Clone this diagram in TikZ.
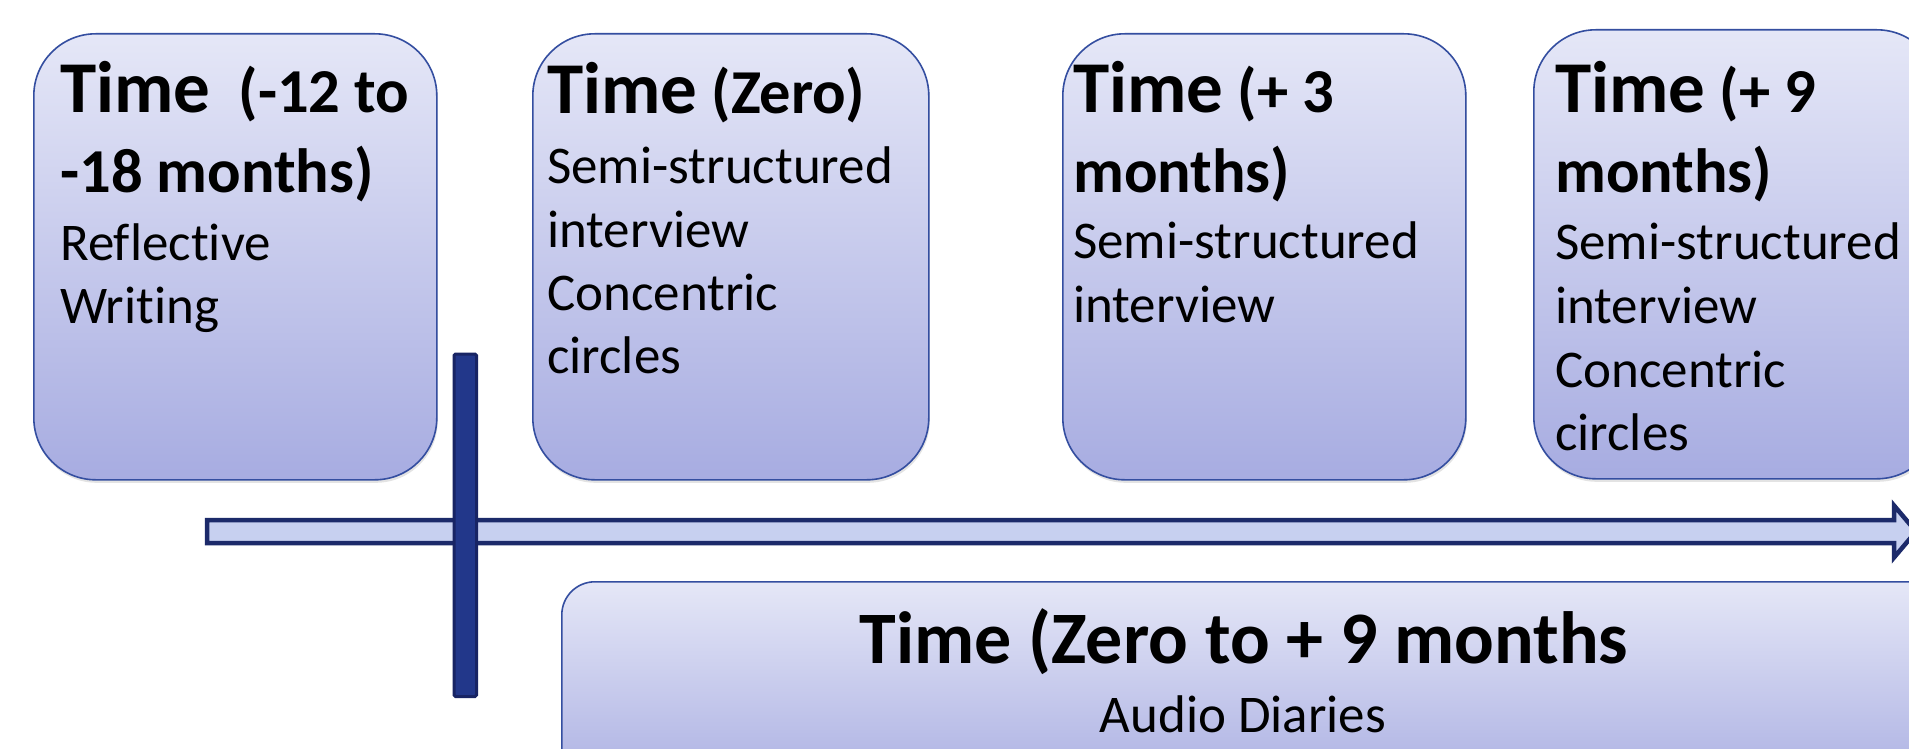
\documentclass[tikz,border=0pt]{standalone}
\usepackage{fontspec}
\setmainfont{Carlito}[Ligatures=NoCommon]
\usetikzlibrary{shadows,calc}
\definecolor{boxtop}{RGB}{229,231,247}
\definecolor{boxbot}{RGB}{167,172,225}
\definecolor{boxline}{RGB}{52,78,160}
\definecolor{arrfill}{RGB}{199,208,240}
\definecolor{arrline}{RGB}{28,42,106}
\definecolor{barfill}{RGB}{34,55,138}
\definecolor{barline}{RGB}{24,36,100}
\newcommand\TimeWord{{\fontsize{73}{80}\selectfont Time}}
\begin{document}
\begin{tikzpicture}[x=1pt,y=-1pt,
  tbox/.style={draw=boxline, line width=1.6pt, rounded corners=62pt,
    top color=boxtop, bottom color=boxbot, anchor=north west, inner sep=0pt,
    drop shadow={opacity=0.22, shadow xshift=1pt, shadow yshift=-3pt}},
  hline/.style={font=\fontsize{62.5}{70}\selectfont\bfseries, anchor=base west, inner sep=0pt},
  bline/.style={font=\fontsize{53}{64}\selectfont, anchor=base west, inner sep=0pt}]
\useasboundingbox (0,0) rectangle (1909,749);
\clip (0,0) rectangle (1909,749);
\fill[white] (0,0) rectangle (1909,749);
% boxes
\node[tbox, minimum width=403pt, minimum height=446pt] (b1) at (33,33) {};
\node[tbox, minimum width=396pt, minimum height=446pt] (b2) at (532,33) {};
\node[tbox, minimum width=403pt, minimum height=446pt] (b3) at (1062,33) {};
\node[tbox, minimum width=405pt, minimum height=449pt] (b4) at (1533,29) {};
\node[tbox, rounded corners=33pt, minimum width=1400pt, minimum height=220pt] (b5) at (561,581) {};
% box 1
\node[hline] (t1a) at (60,113) {\TimeWord\ \ (-12 to};
\node[hline] (t1b) at (60,193) {-18 months)};
\node[bline] (t1c) at (60,260) {Reflective};
\node[bline] (t1d) at (60,323) {Writing};
% box 2
\node[hline] (t2a) at (547,114) {\TimeWord\ (Zero)};
\node[bline] (t2b) at (547,183) {Semi-structured};
\node[bline] (t2c) at (547,247) {interview};
\node[bline] (t2d) at (547,310) {Concentric};
\node[bline] (t2e) at (547,373) {circles};
% box 3
\node[hline] (t3a) at (1073,113) {\TimeWord\ (+ 3};
\node[hline] (t3b) at (1073,192) {months)};
\node[bline] (t3c) at (1073,258) {Semi-structured};
\node[bline] (t3d) at (1073,322) {interview};
% box 4
\node[hline] (t4a) at (1555,113) {\TimeWord\ (+ 9};
\node[hline] (t4b) at (1555,193) {months)};
\node[bline] (t4c) at (1555,259) {Semi-structured};
\node[bline] (t4d) at (1555,323) {interview};
\node[bline] (t4e) at (1555,387) {Concentric};
\node[bline] (t4f) at (1555,450) {circles};
% bottom box
\node[font=\fontsize{74}{80}\selectfont\bfseries, anchor=base, inner sep=0pt] (t5a) at (1244,663) {Time (Zero to + 9 months};
\node[font=\fontsize{53}{64}\selectfont, anchor=base, inner sep=0pt] (t5b) at (1243,732) {Audio Diaries};
% timeline arrow
\coordinate (as) at (207,531.5);
\coordinate (ae) at (1916,531.5);
\draw[arrline, line width=4.5pt, fill=arrfill, line join=miter]
  ($(as)+(0,-11.5)$) -- ($(ae)+(-22,-11.5)$) -- ($(ae)+(-22,-26)$) -- (ae)
  -- ($(ae)+(-22,26)$) -- ($(ae)+(-22,11.5)$) -- ($(as)+(0,11.5)$) -- cycle;
% vertical bar
\draw[barline, line width=3pt, fill=barfill, rounded corners=1.5pt] (454,354) rectangle (476.5,696.5);
\end{tikzpicture}
\end{document}
